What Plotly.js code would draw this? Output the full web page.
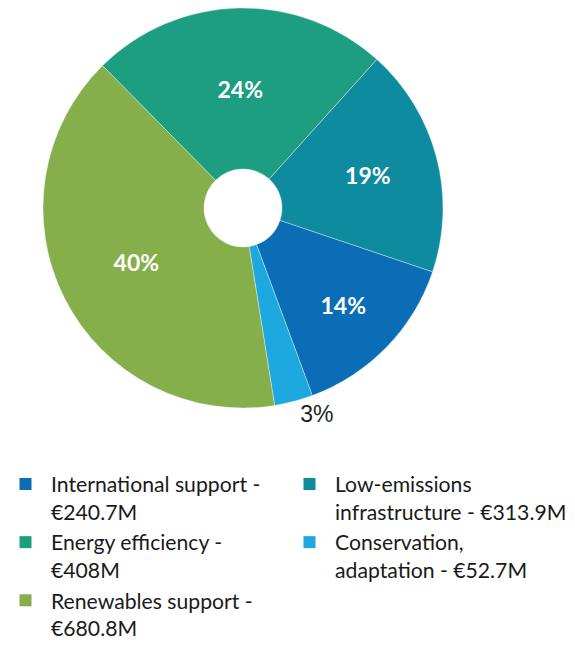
<!DOCTYPE html>
<html>
<head>
<meta charset="utf-8">
<script src="https://cdn.plot.ly/plotly-3.0.1.min.js"></script>
<style>html,body{margin:0;padding:0;background:#fff;}#chart{width:575px;height:645px;}</style>
</head>
<body>
<div id="chart"></div>
<script>
// Categories (legend reading order)
const categories = ['International support', 'Low-emissions infrastructure', 'Energy efficiency', 'Conservation, adaptation', 'Renewables support'];
// Funding in € million
const values = [240.7, 313.9, 408, 52.7, 680.8];
// Legend texts as printed
const legendLabels = [
  'International support -<br>€240.7M',
  'Low-emissions<br>infrastructure - €313.9M',
  'Energy efficiency -<br>€408M',
  'Conservation,<br>adaptation - €52.7M',
  'Renewables support -<br>€680.8M'
];
const colors = ['#0a6db5', '#0f8ba0', '#1d9e80', '#1da8df', '#84af4a'];
// Clockwise order of slices in the pie
const pieOrder = [1, 0, 3, 4, 2];
const textPositions = ['inside', 'inside', 'outside', 'inside', 'inside'];

const font = 'Lato, "Open Sans", sans-serif';

// legend carrier (tiny, hidden in the hole) – defines legend order
const legendTrace = {
  type: 'pie',
  labels: legendLabels,
  values: values,
  sort: false,
  marker: {colors: colors, line: {width: 0}},
  textinfo: 'none',
  hoverinfo: 'skip',
  domain: {x: [0.4225, 0.4226], y: [0.6775, 0.6776]},
  showlegend: true
};

const pieTrace = {
  type: 'pie',
  labels: pieOrder.map(i => legendLabels[i]),
  values: pieOrder.map(i => values[i]),
  sort: false,
  direction: 'clockwise',
  rotation: 42,
  hole: 0.195,
  marker: {colors: pieOrder.map(i => colors[i]), line: {color: 'rgba(255,255,255,0.6)', width: 0.6}},
  texttemplate: '%{percent:.0%}',
  textposition: textPositions,
  insidetextfont: {family: font, size: 23, color: '#ffffff', weight: 'bold'},
  outsidetextfont: {family: '"Liberation Sans", Arial, sans-serif', size: 23, color: '#222222'},
  insidetextorientation: 'horizontal',
  hovertemplate: '%{label}<extra></extra>',
  domain: {x: [43/575, 443/575], y: [237/645, 637/645]},
  showlegend: false
};

const layout = {
  width: 575,
  height: 645,
  margin: {l: 0, r: 0, t: 0, b: 0, autoexpand: false},
  paper_bgcolor: '#ffffff',
  font: {family: font, color: '#1a1a1a'},
  showlegend: true,
  legend: {
    orientation: 'h',
    x: 0,
    xanchor: 'left',
    y: 0.281,
    yanchor: 'top',
    valign: 'top',
    itemwidth: 41,
    entrywidth: 228,
    font: {family: font, size: 21.2, color: '#1a1a1a'}
  }
};

Plotly.newPlot('chart', [legendTrace, pieTrace], layout, {displayModeBar: false, staticPlot: true});
</script>
</body>
</html>
